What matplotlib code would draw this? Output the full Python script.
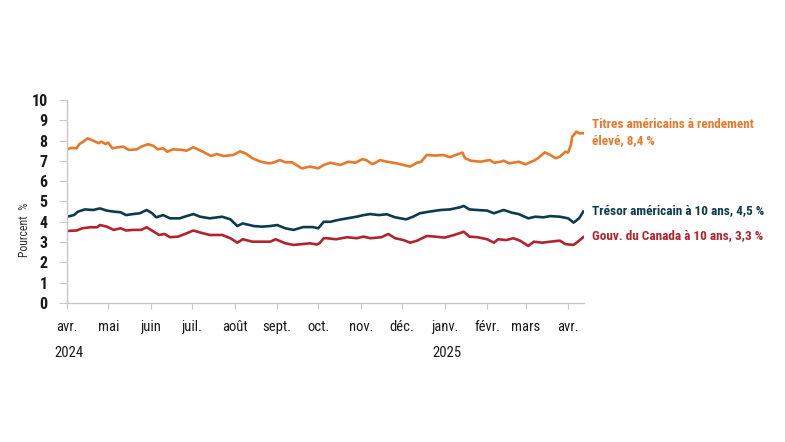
import numpy as np
import pandas as pd
import matplotlib.pyplot as plt
import matplotlib.transforms as mtransforms
from matplotlib import font_manager

# police étroite si disponible
dispo = {f.name for f in font_manager.fontManager.ttflist}
police = 'DejaVu Sans'
for p in ['Liberation Sans Narrow', 'Roboto Condensed', 'Open Sans Condensed',
          'Noto Sans Condensed', 'Roboto', 'Lato']:
    if p in dispo:
        police = p
        break
plt.rcParams['font.family'] = [police, 'DejaVu Sans']

# Données (jours depuis le 1er avril 2024, taux en %)
debut = pd.Timestamp('2024-04-01')

jours_hy = [0, 3, 7, 9, 12, 15, 19, 23, 25, 28, 30, 33, 37, 41, 45, 51, 54, 59, 63, 66,
            70, 73, 77, 84, 87, 92, 99, 105, 109, 114, 121, 126, 130, 135, 141, 147, 150,
            155, 159, 164, 167, 171, 177, 183, 187, 192, 199, 205, 210, 215, 218, 222, 224,
            228, 233, 240, 245, 250, 255, 258, 262, 268, 274, 279, 283, 288, 290, 294, 301,
            308, 311, 316, 318, 322, 325, 329, 334, 340, 343, 348, 352, 356, 359, 363, 365,
            367, 368, 371, 373, 376]
taux_hy = [7.57, 7.64, 7.62, 7.83, 7.95, 8.11, 8.0, 7.87, 7.95, 7.83, 7.9, 7.62, 7.67, 7.7,
           7.54, 7.57, 7.7, 7.82, 7.74, 7.57, 7.62, 7.45, 7.57, 7.54, 7.5, 7.67, 7.45, 7.24,
           7.34, 7.24, 7.29, 7.47, 7.37, 7.13, 6.96, 6.88, 6.91, 7.04, 6.93, 6.93, 6.8, 6.63,
           6.72, 6.63, 6.8, 6.91, 6.8, 6.96, 6.91, 7.08, 7.04, 6.85, 6.88, 7.04, 6.96, 6.88,
           6.8, 6.72, 6.91, 6.96, 7.29, 7.26, 7.29, 7.18, 7.29, 7.41, 7.13, 7.01, 6.96, 7.04,
           6.91, 6.96, 7.01, 6.88, 6.91, 6.96, 6.83, 7.01, 7.13, 7.42, 7.29, 7.13, 7.21, 7.45,
           7.41, 7.78, 8.19, 8.44, 8.36, 8.36]

jours_us = [0, 5, 8, 13, 19, 24, 29, 34, 39, 43, 48, 53, 58, 62, 65, 70, 75, 82, 87, 92, 97,
            104, 113, 119, 124, 128, 136, 142, 148, 153, 159, 165, 172, 179, 183, 187, 192,
            196, 204, 211, 216, 221, 227, 233, 239, 247, 252, 257, 264, 272, 279, 286, 289,
            293, 299, 306, 311, 318, 324, 329, 336, 341, 347, 352, 359, 365, 369, 373, 376]
taux_us = [4.25, 4.33, 4.5, 4.61, 4.58, 4.66, 4.55, 4.5, 4.47, 4.33, 4.38, 4.42, 4.58, 4.42,
           4.22, 4.33, 4.17, 4.17, 4.28, 4.38, 4.25, 4.17, 4.25, 4.12, 3.79, 3.92, 3.79, 3.76,
           3.79, 3.84, 3.68, 3.6, 3.74, 3.74, 3.68, 4.0, 4.0, 4.07, 4.17, 4.25, 4.33, 4.38,
           4.33, 4.37, 4.22, 4.12, 4.25, 4.42, 4.5, 4.58, 4.61, 4.71, 4.78, 4.61, 4.58, 4.55,
           4.42, 4.58, 4.45, 4.38, 4.17, 4.25, 4.22, 4.28, 4.25, 4.17, 3.96, 4.17, 4.5]

jours_ca = [0, 7, 11, 17, 22, 24, 29, 34, 39, 43, 48, 54, 58, 63, 67, 71, 75, 81, 87, 92, 97,
            104, 113, 119, 124, 128, 135, 142, 148, 152, 159, 165, 171, 177, 182, 184, 187,
            189, 196, 204, 211, 216, 221, 229, 234, 239, 245, 250, 255, 262, 268, 275, 282,
            289, 293, 299, 306, 311, 314, 320, 325, 330, 336, 340, 346, 352, 359, 363, 369,
            373, 376]
taux_ca = [3.55, 3.57, 3.68, 3.73, 3.73, 3.84, 3.76, 3.6, 3.68, 3.57, 3.6, 3.6, 3.73, 3.52,
           3.35, 3.4, 3.24, 3.27, 3.43, 3.57, 3.47, 3.35, 3.35, 3.19, 2.97, 3.14, 3.02, 3.02,
           3.02, 3.14, 2.94, 2.86, 2.9, 2.94, 2.88, 2.95, 3.19, 3.19, 3.14, 3.24, 3.19, 3.27,
           3.19, 3.24, 3.4, 3.19, 3.1, 2.97, 3.07, 3.3, 3.27, 3.22, 3.35, 3.51, 3.27, 3.24,
           3.14, 2.97, 3.14, 3.1, 3.19, 3.07, 2.81, 3.02, 2.97, 3.02, 3.07, 2.9, 2.86, 3.07,
           3.24]

mois = ['avr.', 'mai', 'juin', 'juil.', 'août', 'sept.', 'oct.', 'nov.', 'déc.',
        'janv.', 'févr.', 'mars', 'avr.']
annees = {'2024': '2024-04-01', '2025': '2025-01-01'}

etiquettes = ['Titres américains à rendement\nélevé, 8,4 %',
              'Trésor américain à 10 ans, 4,5 %',
              'Gouv. du Canada à 10 ans, 3,3 %']
couleurs = ['#E8792B', '#0D3B4E', '#B3232E']


def dates(j):
    return debut + pd.to_timedelta(j, unit='D')


fig = plt.figure(figsize=(7.85, 4.42), dpi=100)
ax = fig.add_axes([0.0854, 0.3145, 0.6586, 0.4593])

ax.plot(dates(jours_hy), taux_hy, color=couleurs[0], lw=1.9)
ax.plot(dates(jours_us), taux_us, color=couleurs[1], lw=1.9)
ax.plot(dates(jours_ca), taux_ca, color=couleurs[2], lw=1.9)

ax.set_ylim(0, 10)
ax.set_yticks(range(0, 11))
ax.set_xlim(debut, debut + pd.Timedelta(days=376.6))

ticks = pd.date_range('2024-04-01', '2025-04-01', freq='MS')
ax.set_xticks(ticks)
ax.set_xticklabels(mois)

for s in ['top', 'right']:
    ax.spines[s].set_visible(False)
for s in ['left', 'bottom']:
    ax.spines[s].set_color('#C8C8C8')
    ax.spines[s].set_linewidth(1.0)
ax.tick_params(axis='y', colors='#C8C8C8', length=6, labelcolor='#1A1A1A',
               labelsize=11.5, pad=8)
ax.tick_params(axis='x', colors='#C8C8C8', length=4, labelcolor='#1A1A1A',
               labelsize=10.5, pad=8)
for t in ax.get_yticklabels():
    t.set_fontweight('bold')

# étiquette de l'axe y placée à la main
fig.text(0.031, 0.48, 'Pourcent  %', rotation=90, fontsize=8.5, color='#333333',
         ha='center', va='center')

trans = mtransforms.blended_transform_factory(ax.transData, ax.transAxes)
for an, d in annees.items():
    ax.text(pd.Timestamp(d) + pd.Timedelta(days=1.5), -0.245, an, transform=trans,
            ha='center', va='center', fontsize=10.5, color='#1A1A1A')

# étiquettes des séries à droite
taille = 9.5 if police != 'DejaVu Sans' else 8.5
fig.text(0.754, 0.7, etiquettes[0], color=couleurs[0], fontsize=taille, fontweight='bold',
         va='center', ha='left', linespacing=1.35)
fig.text(0.754, 0.524, etiquettes[1], color=couleurs[1], fontsize=taille, fontweight='bold',
         va='center', ha='left')
fig.text(0.754, 0.468, etiquettes[2], color=couleurs[2], fontsize=taille, fontweight='bold',
         va='center', ha='left')

fig.savefig('out.png', dpi=100)
